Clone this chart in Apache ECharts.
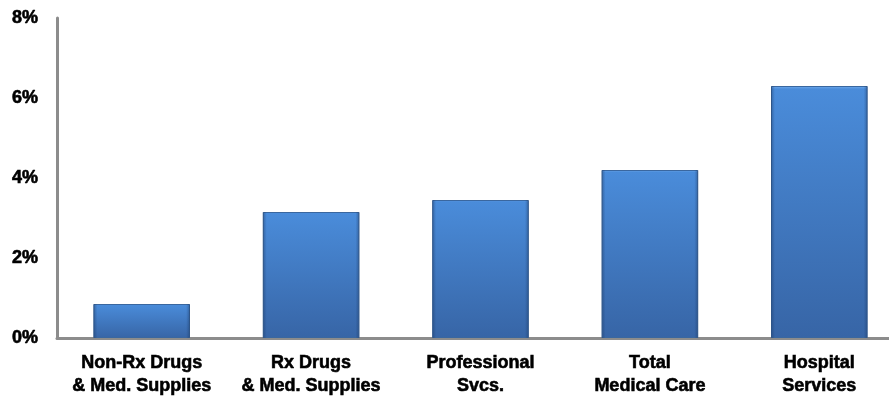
<!DOCTYPE html>
<html>
<head>
<meta charset="utf-8">
<script src="https://cdn.jsdelivr.net/npm/echarts@6/dist/echarts.min.js"></script>
<style>
  html, body { margin: 0; padding: 0; background: #fff; overflow: hidden; }
  /* canvas runs a little past the right edge so the x axis bleeds off the page */
  #chart { width: 904px; height: 398px; }
</style>
</head>
<body>
<div id="chart"></div>
<script>
// Price growth by medical care category (percent)
const categories = [
  'Non-Rx Drugs\n& Med. Supplies',
  'Rx Drugs\n& Med. Supplies',
  'Professional\nSvcs.',
  'Total\nMedical Care',
  'Hospital\nServices'
];
const growthPct = [0.85, 3.15, 3.45, 4.2, 6.3];
const yTicks = [0, 2, 4, 6, 8];

const labelFont = {
  color: '#000',
  fontFamily: '"Liberation Sans", Arial, sans-serif',
  fontWeight: 'bold',
  fontSize: 18,
  textBorderColor: '#000',
  textBorderWidth: 0.6
};

const chart = echarts.init(document.getElementById('chart'));
chart.setOption({
  animation: false,
  grid: { left: 57, top: 18, right: 0, height: 320, containLabel: false },
  xAxis: {
    type: 'category',
    data: categories,
    axisLine: { lineStyle: { color: '#8c8c8c', width: 3 } },
    axisTick: { show: false },
    axisLabel: Object.assign({ margin: 14, lineHeight: 23, interval: 0 }, labelFont)
  },
  yAxis: {
    type: 'value',
    min: yTicks[0],
    max: yTicks[yTicks.length - 1],
    interval: 2,
    axisLine: { show: true, lineStyle: { color: '#8c8c8c', width: 3 } },
    axisTick: { show: false },
    splitLine: { show: false },
    axisLabel: Object.assign({ margin: 19, formatter: v => v + '%' }, labelFont)
  },
  series: [
    {
      type: 'bar',
      data: growthPct,
      barCategoryGap: '43%',
      itemStyle: {
        color: {
          type: 'linear', x: 0, y: 0, x2: 0, y2: 1,
          colorStops: [
            { offset: 0, color: '#74aeee' },
            { offset: 0.012, color: '#4a8cda' },
            { offset: 1, color: '#3765a6' }
          ]
        },
        borderColor: '#3a679f',
        borderWidth: 1
      }
    },
    {
      // side bevel shading over each bar
      type: 'bar',
      data: growthPct,
      barGap: '-100%',
      barCategoryGap: '43%',
      silent: true,
      itemStyle: {
        color: {
          type: 'linear', x: 0, y: 0, x2: 1, y2: 0,
          colorStops: [
            { offset: 0, color: 'rgba(25,55,100,0.45)' },
            { offset: 0.04, color: 'rgba(25,55,100,0)' },
            { offset: 0.96, color: 'rgba(25,55,100,0)' },
            { offset: 1, color: 'rgba(25,55,100,0.45)' }
          ]
        }
      }
    }
  ]
});
</script>
</body>
</html>
